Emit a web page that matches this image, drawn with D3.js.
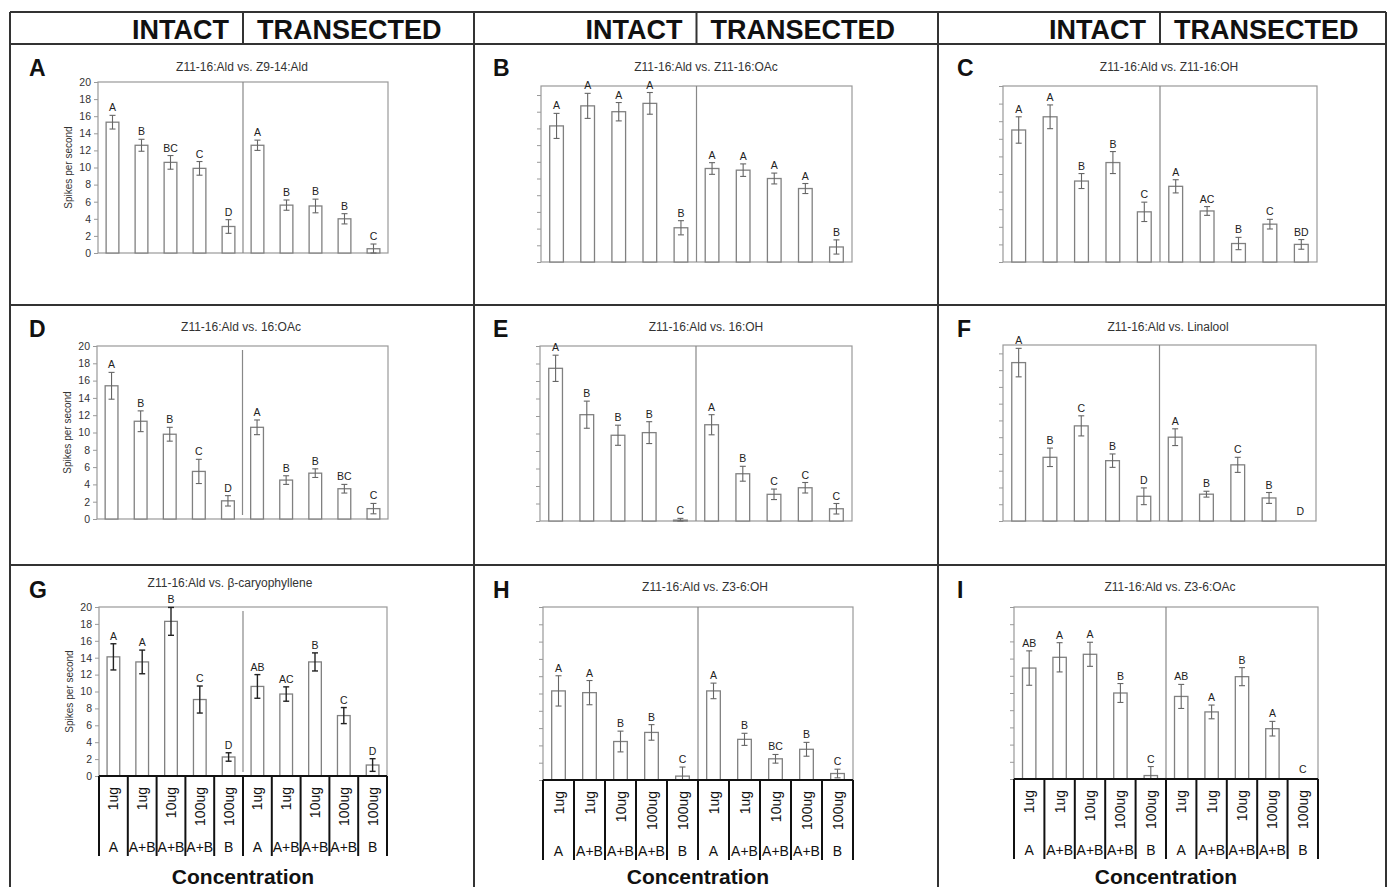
<!DOCTYPE html>
<html>
<head>
<meta charset="utf-8">
<script src="https://cdn.jsdelivr.net/npm/d3@7"></script>
<style>
body { margin: 0; background: #fff; }
text { font-family: Arial, "Liberation Sans", sans-serif; }
</style>
</head>
<body>
<script>
// data
var doses = ["1ug", "1ug", "10ug", "100ug", "100ug", "1ug", "1ug", "10ug", "100ug", "100ug"];
var stimuli = ["A", "A+B", "A+B", "A+B", "B", "A", "A+B", "A+B", "A+B", "B"];
var yTicks = [0, 2, 4, 6, 8, 10, 12, 14, 16, 18, 20];
var yMax = [20, 21.08, 20, 20, 20, 21, 20, 20, 20];
var headerLabels = ["INTACT", "TRANSECTED"];
var panelLetters = ["A", "B", "C", "D", "E", "F", "G", "H", "I"];
var titles = ["Z11-16:Ald vs. Z9-14:Ald", "Z11-16:Ald vs. Z11-16:OAc", "Z11-16:Ald vs. Z11-16:OH",
              "Z11-16:Ald vs. 16:OAc", "Z11-16:Ald vs. 16:OH", "Z11-16:Ald vs. Linalool",
              "Z11-16:Ald vs. \u03b2-caryophyllene", "Z11-16:Ald vs. Z3-6:OH", "Z11-16:Ald vs. Z3-6:OAc"];

var meanA = [15.3, 12.6, 10.6, 9.9, 3.1, 12.6, 5.6, 5.5, 4.0, 0.5];
var errA  = [0.8, 0.7, 0.8, 0.8, 0.8, 0.6, 0.6, 0.8, 0.6, 0.55];
var sigA  = ["A", "B", "BC", "C", "D", "A", "B", "B", "B", "C"];

var meanB = [16.3, 18.7, 18.0, 19.0, 4.1, 11.2, 11.0, 10.0, 8.8, 1.8];
var errB  = [1.5, 1.5, 1.1, 1.3, 0.85, 0.7, 0.75, 0.65, 0.6, 0.85];
var sigB  = ["A", "A", "A", "A", "B", "A", "A", "A", "A", "B"];

var meanC = [15.0, 16.5, 9.2, 11.3, 5.7, 8.6, 5.8, 2.1, 4.3, 2.0];
var errC  = [1.5, 1.35, 0.85, 1.25, 1.1, 0.75, 0.5, 0.7, 0.55, 0.55];
var sigC  = ["A", "A", "B", "B", "C", "A", "AC", "B", "C", "BD"];

var meanD = [15.4, 11.3, 9.8, 5.5, 2.1, 10.6, 4.5, 5.3, 3.5, 1.2];
var errD  = [1.55, 1.2, 0.8, 1.4, 0.6, 0.85, 0.5, 0.5, 0.5, 0.6];
var sigD  = ["A", "B", "B", "C", "D", "A", "B", "B", "BC", "C"];

var meanE = [17.45, 12.15, 9.8, 10.1, 0.1, 11.0, 5.4, 3.05, 3.8, 1.4];
var errE  = [1.5, 1.55, 1.15, 1.25, 0.2, 1.15, 0.85, 0.6, 0.6, 0.6];
var sigE  = ["A", "B", "B", "B", "C", "A", "B", "C", "C", "C"];

var meanF = [18.9, 7.6, 11.35, 7.2, 2.95, 10.0, 3.2, 6.7, 2.75, 0];
var errF  = [1.7, 1.1, 1.2, 0.8, 1.0, 1.0, 0.35, 0.9, 0.65, 0];
var sigF  = ["A", "B", "C", "B", "D", "A", "B", "C", "B", "D"];

var meanG = [14.1, 13.5, 18.3, 9.05, 2.25, 10.6, 9.7, 13.5, 7.15, 1.3];
var errG  = [1.55, 1.4, 1.65, 1.6, 0.5, 1.4, 0.85, 1.07, 0.95, 0.75];
var sigG  = ["A", "A", "B", "C", "D", "AB", "AC", "B", "C", "D"];

var meanH = [10.3, 10.1, 4.45, 5.5, 0.45, 10.3, 4.7, 2.45, 3.55, 0.75];
var errH  = [1.75, 1.4, 1.2, 0.9, 1.05, 0.9, 0.7, 0.5, 0.8, 0.5];
var sigH  = ["A", "A", "B", "B", "C", "A", "B", "BC", "B", "C"];

var meanI = [12.9, 14.15, 14.5, 10.0, 0.4, 9.6, 7.8, 11.9, 5.85, 0];
var errI  = [2.0, 1.7, 1.4, 1.1, 1.05, 1.4, 0.8, 1.05, 0.85, 0];
var sigI  = ["AB", "A", "A", "B", "C", "AB", "A", "B", "A", "C"];

var means = [meanA, meanB, meanC, meanD, meanE, meanF, meanG, meanH, meanI];
var errs  = [errA, errB, errC, errD, errE, errF, errG, errH, errI];
var sigs  = [sigA, sigB, sigC, sigD, sigE, sigF, sigG, sigH, sigI];

var W = 1387, H = 887;
var svg = d3.select("body").append("svg").attr("width", W).attr("height", H);

// page frame
var colX = [10, 474, 938, 1386];
var rowY = [12, 44, 305, 565];
var letterY = [76, 337, 598];

var layout = [
  {left: 98,   right: 388,  top: 82,  bottom: 253, titleX: 242,  titleY: 71,  labels: true},
  {left: 541,  right: 852,  top: 86,  bottom: 262, titleX: 706,  titleY: 71},
  {left: 1003, right: 1317, top: 86,  bottom: 262, titleX: 1169, titleY: 71},
  {left: 97,   right: 388,  top: 346, bottom: 519, titleX: 241,  titleY: 331, labels: true, shortDiv: true},
  {left: 540,  right: 852,  top: 346, bottom: 521, titleX: 706,  titleY: 331},
  {left: 1003, right: 1316, top: 345, bottom: 521, titleX: 1168, titleY: 331},
  {left: 99,   right: 387,  top: 607, bottom: 776, titleX: 230,  titleY: 587, labels: true, shortDiv: true, table: true, dark: true},
  {left: 543,  right: 853,  top: 607, bottom: 780, titleX: 705,  titleY: 591, table: true},
  {left: 1014, right: 1318, top: 607, bottom: 779, titleX: 1170, titleY: 591, table: true}
];

var frame = svg.append("g").attr("stroke", "#333").attr("stroke-width", 2);
rowY.forEach(function(yy) {
  frame.append("line").attr("x1", colX[0]).attr("x2", colX[3]).attr("y1", yy).attr("y2", yy);
});
colX.forEach(function(xx) {
  frame.append("line").attr("x1", xx).attr("x2", xx).attr("y1", rowY[0]).attr("y2", H);
});

function drawPanel(i) {
  var L = layout[i];
  var x = d3.scaleBand()
            .domain(d3.range(doses.length))
            .range([L.left, L.right])
            .paddingInner(0.56)
            .paddingOuter(0.28);
  var y = d3.scaleLinear()
            .domain([0, yMax[i]])
            .range([L.bottom, L.top]);
  var divX = x(5) - x.step() * x.paddingInner() / 2;
  var g = svg.append("g");

  // header for this column (top row only)
  if (i < 3) {
    g.append("line")
     .attr("x1", divX).attr("x2", divX)
     .attr("y1", rowY[0]).attr("y2", rowY[1])
     .attr("stroke", "#333").attr("stroke-width", 2);
    g.append("text").text(headerLabels[0])
     .attr("x", divX - 14).attr("y", 39)
     .attr("text-anchor", "end")
     .attr("font-size", "27px").attr("font-weight", "bold").attr("fill", "#111");
    g.append("text").text(headerLabels[1])
     .attr("x", divX + 14).attr("y", 39)
     .attr("font-size", "27px").attr("font-weight", "bold").attr("fill", "#111");
  }

  // panel letter and title
  g.append("text").text(panelLetters[i])
   .attr("x", colX[i % 3] + 19).attr("y", letterY[Math.floor(i / 3)])
   .attr("font-size", "23px").attr("font-weight", "bold").attr("fill", "#111");
  g.append("text").text(titles[i])
   .attr("x", L.titleX).attr("y", L.titleY)
   .attr("text-anchor", "middle")
   .attr("font-size", "12px").attr("fill", "#333");

  // plot box
  g.append("rect")
   .attr("x", L.left).attr("y", L.top)
   .attr("width", L.right - L.left).attr("height", L.bottom - L.top)
   .attr("fill", "none").attr("stroke", "#999").attr("stroke-width", 1.2);

  // divider intact / transected
  var inset = L.shortDiv ? 4 : 0;
  g.append("line")
   .attr("x1", divX).attr("x2", divX)
   .attr("y1", L.top + inset).attr("y2", L.bottom - inset)
   .attr("stroke", "#888").attr("stroke-width", 1.2);

  // y axis
  var axis = d3.axisLeft(y).tickValues(yTicks).tickSize(4).tickPadding(3);
  if (!L.labels) axis.tickFormat("");
  var ag = g.append("g")
            .attr("transform", "translate(" + L.left + ",0)")
            .call(axis);
  ag.select(".domain").remove();
  ag.selectAll("line").attr("stroke", "#999");
  ag.selectAll("text").attr("font-size", "10.5px").attr("fill", "#333")
    .attr("font-family", "Arial, 'Liberation Sans', sans-serif");

  if (L.labels) {
    g.append("text").text("Spikes per second")
     .attr("transform", "translate(" + (L.left - 26) + "," + ((L.top + L.bottom) / 2) + ") rotate(-90)")
     .attr("text-anchor", "middle")
     .attr("font-size", "10px").attr("fill", "#333");
  }

  var rows = d3.range(doses.length).map(function(k) {
    return {k: k, m: means[i][k], e: errs[i][k], s: sigs[i][k]};
  });

  // bars
  g.selectAll("rect.bar")
   .data(rows.filter(function(d) { return d.m > 0; }))
   .enter()
   .append("rect")
   .attr("class", "bar")
   .attr("x", function(d) { return x(d.k); })
   .attr("y", function(d) { return y(d.m); })
   .attr("width", x.bandwidth())
   .attr("height", function(d) { return L.bottom - y(d.m); })
   .attr("fill", "white")
   .attr("stroke", "#808080")
   .attr("stroke-width", 1.3);

  // error bars
  var errColor = L.dark ? "#222" : "#666";
  var eg = g.selectAll("g.err")
            .data(rows.filter(function(d) { return d.e > 0; }))
            .enter()
            .append("g")
            .attr("class", "err")
            .attr("stroke", errColor)
            .attr("stroke-width", L.dark ? 1.4 : 1.1);
  eg.append("line")
    .attr("x1", function(d) { return x(d.k) + x.bandwidth() / 2; })
    .attr("x2", function(d) { return x(d.k) + x.bandwidth() / 2; })
    .attr("y1", function(d) { return y(d.m + d.e); })
    .attr("y2", function(d) { return y(Math.max(0, d.m - d.e)); });
  [1, -1].forEach(function(sgn) {
    eg.append("line")
      .attr("x1", function(d) { return x(d.k) + x.bandwidth() / 2 - 3; })
      .attr("x2", function(d) { return x(d.k) + x.bandwidth() / 2 + 3; })
      .attr("y1", function(d) { return y(Math.max(0, d.m + sgn * d.e)); })
      .attr("y2", function(d) { return y(Math.max(0, d.m + sgn * d.e)); });
  });

  // significance letters
  g.selectAll("text.sig")
   .data(rows)
   .enter()
   .append("text")
   .attr("class", "sig")
   .text(function(d) { return d.s; })
   .attr("x", function(d) { return x(d.k) + x.bandwidth() / 2; })
   .attr("y", function(d) { return y(d.m + d.e) - (d.m + d.e > 0 ? 4 : 6); })
   .attr("text-anchor", "middle")
   .attr("font-size", "10.5px")
   .attr("fill", "#222");

  // category table under bottom row
  if (L.table) {
    var tb = 80;
    var edges = d3.range(doses.length).map(function(k) {
      return x(k) - x.step() * x.paddingInner() / 2;
    }).concat([L.right]);
    g.selectAll("line.cell")
     .data(edges)
     .enter()
     .append("line")
     .attr("class", "cell")
     .attr("x1", function(d) { return d; })
     .attr("x2", function(d) { return d; })
     .attr("y1", L.bottom).attr("y2", L.bottom + tb)
     .attr("stroke", "#111").attr("stroke-width", 2);
    g.append("line")
     .attr("x1", L.left).attr("x2", L.right)
     .attr("y1", L.bottom).attr("y2", L.bottom)
     .attr("stroke", "#111").attr("stroke-width", 2);
    g.selectAll("text.dose")
     .data(doses)
     .enter()
     .append("text")
     .attr("class", "dose")
     .text(function(d) { return d; })
     .attr("transform", function(d, k) {
       return "translate(" + (x(k) + x.bandwidth() / 2 + 5) + "," + (L.bottom + 11) + ") rotate(-90)";
     })
     .attr("text-anchor", "end")
     .attr("font-size", "14px").attr("fill", "#111");
    g.selectAll("text.stim")
     .data(stimuli)
     .enter()
     .append("text")
     .attr("class", "stim")
     .text(function(d) { return d; })
     .attr("x", function(d, k) { return x(k) + x.bandwidth() / 2; })
     .attr("y", L.bottom + 76)
     .attr("text-anchor", "middle")
     .attr("font-size", "14px").attr("fill", "#111");
    g.append("text").text("Concentration")
     .attr("x", (L.left + L.right) / 2).attr("y", 884)
     .attr("text-anchor", "middle")
     .attr("font-size", "21px").attr("font-weight", "bold").attr("fill", "#111");
  }
}

d3.range(9).forEach(drawPanel);
</script>
</body>
</html>
